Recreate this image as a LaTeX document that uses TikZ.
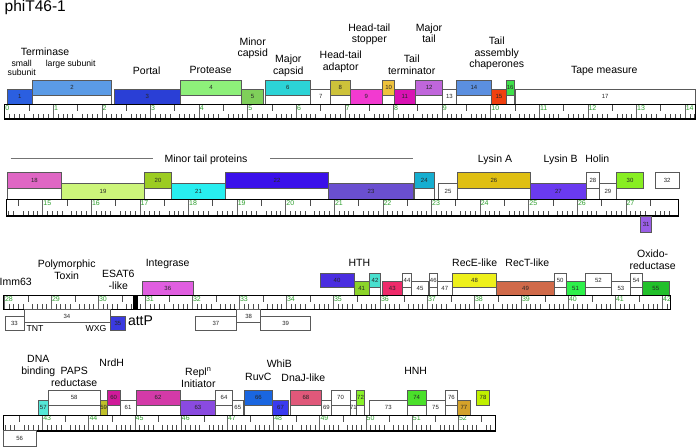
\documentclass[tikz,border=0pt]{standalone}
\usepackage{fontspec}
\setmainfont{Liberation Sans}
\usepackage{tikz}
\usepackage{xcolor}
\usetikzlibrary{positioning}

\definecolor{c1}{HTML}{2B5FE0}
\definecolor{c2}{HTML}{5B9BE6}
\definecolor{c3}{HTML}{2A3FD6}
\definecolor{c4}{HTML}{8EF07A}
\definecolor{c5}{HTML}{7FCF5A}
\definecolor{c6}{HTML}{2CD3D6}
\definecolor{c8}{HTML}{CDC23A}
\definecolor{c9}{HTML}{F23AD0}
\definecolor{c10}{HTML}{EEC23C}
\definecolor{c11}{HTML}{D912B3}
\definecolor{c12}{HTML}{C066DB}
\definecolor{c14}{HTML}{5B8FE0}
\definecolor{c15}{HTML}{F0400F}
\definecolor{c16}{HTML}{3EE04A}
\definecolor{c18}{HTML}{DF66C4}
\definecolor{c19}{HTML}{CCF57A}
\definecolor{c20}{HTML}{9CCC22}
\definecolor{c21}{HTML}{28EEF0}
\definecolor{c22}{HTML}{3A10EA}
\definecolor{c23}{HTML}{6A4FD0}
\definecolor{c24}{HTML}{16AED0}
\definecolor{c26}{HTML}{DFBF12}
\definecolor{c27}{HTML}{6A3AF0}
\definecolor{c30}{HTML}{88EE22}
\definecolor{c31}{HTML}{9A5EE6}
\definecolor{c35}{HTML}{3A3AE0}
\definecolor{c36}{HTML}{E05EE0}
\definecolor{c40}{HTML}{4A2EE0}
\definecolor{c41}{HTML}{8CD42A}
\definecolor{c42}{HTML}{4AE0CF}
\definecolor{c43}{HTML}{EE2A6A}
\definecolor{c48}{HTML}{EEF01A}
\definecolor{c49}{HTML}{D06A4A}
\definecolor{c51}{HTML}{2EF04A}
\definecolor{c55}{HTML}{22C02A}
\definecolor{c57}{HTML}{55E8D8}
\definecolor{c59}{HTML}{C0C02A}
\definecolor{c60}{HTML}{D01A9A}
\definecolor{c62}{HTML}{D33AA8}
\definecolor{c63}{HTML}{8A4AE0}
\definecolor{c66}{HTML}{1A66E0}
\definecolor{c67}{HTML}{3A3AF0}
\definecolor{c68}{HTML}{E0587A}
\definecolor{c72}{HTML}{88F02A}
\definecolor{c74}{HTML}{4AE02A}
\definecolor{c77}{HTML}{D4A22A}
\definecolor{c78}{HTML}{C0F000}
\definecolor{kbgreen}{HTML}{2E9E2E}

% gene boxes: name, x1, x2, fill, label
\newcommand{\upgene}[5]{%
  \draw[genestem] (#2,\upB) rectangle (#3,\loB);
  \node[gene, fill=#4, minimum width={(#3-#2)*1pt}, minimum height={(\upB-\upT)*1pt}] (#1) at ({(#2+#3)/2},{(\upT+\upB)/2}) {#5};}
\newcommand{\solegene}[5]{%
  \node[gene, fill=#4, minimum width={(#3-#2)*1pt}, minimum height={(\upB-\upT)*1pt}] (#1) at ({(#2+#3)/2},{(\upT+\upB)/2}) {#5};}
\newcommand{\lowgene}[5]{%
  \node[gene, fill=#4, minimum width={(#3-#2)*1pt}, minimum height={(\loB-\loT)*1pt}] (#1) at ({(#2+#3)/2},{(\loT+\loB)/2}) {#5};}
% free box: name, x1, x2, y1, y2, fill, label
\newcommand{\boxgene}[7]{%
  \node[gene, fill=#6, minimum width={(#3-#2)*1pt}, minimum height={(#5-#4)*1pt}] (#1) at ({(#2+#3)/2},{(#4+#5)/2}) {#7};}
% ruler: ytop, ybot, xleft, xright, x of first kb, first kb, last kb, px per kb
\newcommand{\kbruler}[8]{%
  \pgfmathtruncatemacro\kspan{#7-#6+1}
  \begin{scope}
    \clip (#3,#1) rectangle (#4,#2);
    \foreach \k in {-1,...,\kspan}{
      \foreach \j in {1,...,9}{
        \pgfmathsetmacro\xt{#5+(\k+\j/10)*#8}
        \ifnum\j=5 \draw[halftick] (\xt,#1) -- ++(0,6.5);
        \else \draw[tenthtick] (\xt,#2) -- ++(0,-5.5); \fi
      }
    }
  \end{scope}
  \foreach \k in {#6,...,#7}{
    \pgfmathsetmacro\xt{#5+(\k-#6)*#8}
    \draw[kbtick] (\xt,#1) -- (\xt,#2);
    \node[kblabel] (kb\k) at (\xt+0.6,#1+0.7) {\k};
  }
  \draw[rulerbox] (#3,#1) rectangle (#4,#2);
  \draw[rulerbase] (#3,#2) -- (#4,#2);}

\begin{document}
\begin{tikzpicture}[
  x=1pt, y=-1pt,
  gene/.style={draw=black!65, line width=0.7pt, inner sep=0pt, outer sep=0pt, text=black!85, font=\fontsize{6}{6}\selectfont},
  genestem/.style={draw=black!65, line width=0.7pt, fill=white},
  lab/.style={inner sep=0pt, align=center, font=\fontsize{10.5}{11.7}\selectfont},
  sublab/.style={inner sep=0pt, align=center, font=\fontsize{8.7}{9.7}\selectfont},
  kblabel/.style={anchor=north west, inner sep=0pt, text=kbgreen, font=\fontsize{7}{7}\selectfont},
  kbtick/.style={draw=black!60, line width=0.6pt},
  halftick/.style={draw=black!70, line width=0.6pt},
  tenthtick/.style={draw=black!70, line width=0.6pt},
  rulerbox/.style={draw=black, line width=0.8pt},
  rulerbase/.style={draw=black, line width=1.6pt},
  tailbar/.style={draw=black!55, line width=0.8pt}
]
\useasboundingbox (0,0) rectangle (696,447);

\node[anchor=west, inner sep=0pt, font=\fontsize{15.5}{15.5}\selectfont] (title) at (4.5,7) {phiT46-1};

% ---- row 1: 0 - 14 kb
\def\upT{80}\def\upB{95}\def\loT{89}\def\loB{104.5}
\upgene{g2}{32.3}{111.7}{c2}{2}
\upgene{g4}{180.3}{241.7}{c4}{4}
\upgene{g6}{265}{310.7}{c6}{6}
\upgene{g8}{330.7}{350}{c8}{8}
\upgene{g10}{382.7}{394.7}{c10}{10}
\upgene{g12}{415.7}{442.7}{c12}{12}
\upgene{g14}{456}{491.7}{c14}{14}
\upgene{g16}{506}{514.3}{c16}{16}
\lowgene{g1}{7.3}{32.3}{c1}{1}
\lowgene{g3}{114.3}{180.3}{c3}{3}
\lowgene{g5}{241.7}{263.3}{c5}{5}
\lowgene{g7}{310.7}{330.7}{white}{7}
\lowgene{g9}{350}{382.7}{c9}{9}
\lowgene{g11}{394.7}{415}{c11}{11}
\lowgene{g13}{442.7}{456}{white}{13}
\lowgene{g15}{491.7}{506}{c15}{15}
\lowgene{g17}{515}{695.3}{white}{17}
\kbruler{104.5}{119}{4}{695.3}{4.6}{0}{14}{48.6}

\node[lab] (terminase) at (45,52) {Terminase};
\node[sublab] (small) at (21.7,67.9) {small\\subunit};
\node[sublab] (large) at (70.7,64.5) {large subunit};
\node[lab] (portal) at (146.7,70.3) {Portal};
\node[lab] (protease) at (210.7,70.3) {Protease};
\node[lab] (mincapsid) at (252.7,48.3) {Minor\\capsid};
\node[lab] (majcapsid) at (288.3,65.7) {Major\\capsid};
\node[lab] (adaptor) at (340.7,61.5) {Head-tail\\adaptor};
\node[lab] (stopper) at (369.3,34.3) {Head-tail\\stopper};
\node[lab] (terminator) at (411.7,64.7) {Tail\\terminator};
\node[lab] (majtail) at (429,33.3) {Major\\tail};
\node[lab] (chaperones) at (496.7,53.3) {Tail\\assembly\\chaperones};
\node[lab] (tape) at (604.3,71.3) {Tape measure};

% ---- row 2: 14 - 28 kb
\def\upT{172}\def\upB{188}\def\loT{183}\def\loB{199.3}
\upgene{g18}{7.3}{61.7}{c18}{18}
\upgene{g20}{144.3}{171.7}{c20}{20}
\upgene{g22}{225.3}{328.7}{c22}{22}
\upgene{g24}{414.3}{434.3}{c24}{24}
\upgene{g26}{457.7}{530}{c26}{26}
\upgene{g28}{586.7}{599}{white}{28}
\solegene{g30}{616.7}{643.3}{c30}{30}
\solegene{g32}{655.3}{679}{white}{32}
\lowgene{g19}{61.7}{144.3}{c19}{19}
\lowgene{g21}{171.7}{225.3}{c21}{21}
\lowgene{g23}{328.7}{413.3}{c23}{23}
\lowgene{g25}{438.3}{457.7}{white}{25}
\lowgene{g27}{530}{586.7}{c27}{27}
\lowgene{g29}{599}{616.7}{white}{29}
\kbruler{199.3}{216}{6.7}{678.7}{42.6}{15}{27}{48.6}
\boxgene{g31}{640.7}{651.7}{216}{232.7}{c31}{31}

\node[lab] (mintail) at (206,159.3) {Minor tail proteins};
\coordinate (mtlA) at (10.7,158.3);
\coordinate (mtlB) at (153.3,158.3);
\coordinate (mtrA) at (270,158.3);
\coordinate (mtrB) at (413.3,158.3);
\draw[tailbar] (mtlA) -- (mtlB);
\draw[tailbar] (mtrA) -- (mtrB);
\node[lab] (lysinA) at (495,159.3) {Lysin A};
\node[lab] (lysinB) at (560.7,159.3) {Lysin B};
\node[lab] (holin) at (597.3,158.3) {Holin};

% ---- row 3: 28 - 42 kb
\def\upT{273.3}\def\upB{287}\def\loT{281.7}\def\loB{295.7}
\solegene{g40}{320}{354}{c40}{40}
\upgene{g42}{369.3}{380.7}{c42}{42}
\upgene{g44}{402.3}{411.7}{white}{44}
\upgene{g46}{429.3}{437.3}{white}{46}
\upgene{g48}{452.3}{496.7}{c48}{48}
\upgene{g50}{554.3}{566}{white}{50}
\upgene{g52}{585}{611.7}{white}{52}
\upgene{g54}{630}{642.3}{white}{54}
\lowgene{g36}{142.3}{193.3}{c36}{36}
\lowgene{g41}{354}{369.3}{c41}{41}
\lowgene{g43}{382.3}{402.3}{c43}{43}
\lowgene{g45}{411.7}{428.3}{white}{45}
\lowgene{g47}{437.3}{452.3}{white}{47}
\lowgene{g49}{496.7}{554.3}{c49}{49}
\lowgene{g51}{566}{585}{c51}{51}
\lowgene{g53}{611.7}{630}{white}{53}
\lowgene{g55}{642.3}{669.3}{c55}{55}
\kbruler{295.7}{309.3}{3.3}{670}{4.3}{28}{42}{47}
\fill (133.3,295.7) rectangle (138.3,309.3);
\boxgene{g34}{24}{110}{309.3}{322.7}{white}{34}
\boxgene{g33}{5}{24}{316.7}{330.7}{white}{33}
\boxgene{g35}{110}{125.7}{316.7}{330.7}{c35}{35}
\boxgene{g38}{236.7}{260.7}{309.3}{322.7}{white}{38}
\boxgene{g37}{195}{236.7}{316.7}{330.4}{white}{37}
\boxgene{g39}{260.7}{310.7}{316.7}{330.7}{white}{39}

\node[lab, anchor=west] (imm) at (-0.5,282.3) {Imm63};
\node[lab] (toxin) at (66.7,269.8) {Polymorphic\\Toxin};
\node[lab] (esat) at (118.3,280) {ESAT6\\-like};
\node[lab] (integrase) at (167.7,264.3) {Integrase};
\node[lab] (hth) at (359.3,262.7) {HTH};
\node[lab] (rece) at (474.7,262.7) {RecE-like};
\node[lab] (rect) at (527.3,262.7) {RecT-like};
\node[lab] (oxido) at (652.7,259.9) {Oxido-\\reductase};
\node[sublab] (tnt) at (35,329) {TNT};
\node[sublab] (wxg) at (96,329) {WXG};
\node[inner sep=0pt, font=\fontsize{14}{14}\selectfont] (attp) at (140.5,321) {attP};

% ---- row 4: 42 - 52.8 kb
\def\upT{390}\def\upB{405}\def\loT{400}\def\loB{415}
\upgene{g58}{48.3}{100}{white}{58}
\upgene{g60}{107.3}{120}{c60}{60}
\upgene{g62}{136}{180}{c62}{62}
\upgene{g64}{215.7}{232.3}{white}{64}
\upgene{g66}{244}{272.7}{c66}{66}
\upgene{g68}{290}{321.7}{c68}{68}
\upgene{g70}{331}{350}{white}{70}
\upgene{g72}{356.7}{364.3}{c72}{72}
\upgene{g74}{407.3}{426}{c74}{74}
\upgene{g76}{445}{457.7}{white}{76}
\solegene{g78}{476.7}{489.3}{c78}{78}
\lowgene{g57}{38.3}{48.3}{c57}{57}
\lowgene{g59}{100}{107.3}{c59}{59}
\lowgene{g61}{120}{136}{white}{61}
\lowgene{g63}{180}{215.7}{c63}{63}
\lowgene{g65}{232.3}{243.3}{white}{65}
\lowgene{g67}{272.7}{288.3}{c67}{67}
\lowgene{g69}{321.7}{331}{white}{69}
\lowgene{g71}{350}{356.7}{white}{71}
\lowgene{g73}{369.3}{407.3}{white}{73}
\lowgene{g75}{426}{445}{white}{75}
\lowgene{g77}{457.7}{470}{c77}{77}
\kbruler{415}{430.7}{3.3}{495.7}{42.5}{43}{52}{46.2}
\boxgene{g56}{3.3}{36}{430.7}{446}{white}{56}

\node[lab] (dnabind) at (38.3,366) {DNA\\binding};
\node[lab] (paps) at (74.2,376.9) {PAPS\\reductase};
\node[lab] (nrdh) at (111.7,362.7) {NrdH};
\node[lab] (repl) at (198.3,377.8) {Repl\textsuperscript{n}\\Initiator};
\node[lab] (whib) at (279.3,364) {WhiB};
\node[lab] (ruvc) at (258.3,376.7) {RuvC};
\node[lab] (dnaj) at (303.3,377.7) {DnaJ-like};
\node[lab] (hnh) at (415.7,371) {HNH};
\end{tikzpicture}
\end{document}
